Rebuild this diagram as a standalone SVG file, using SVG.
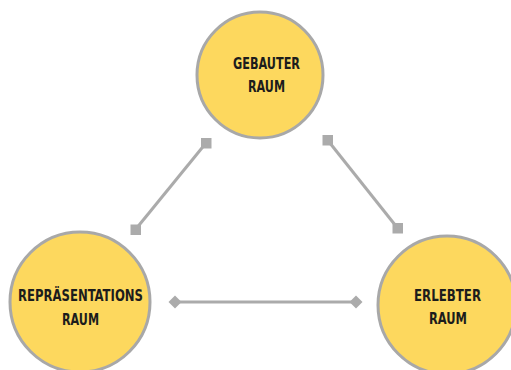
<svg xmlns="http://www.w3.org/2000/svg" width="511" height="370" viewBox="0 0 511 370">
  <style>
    .node circle { fill: #FDD85E; stroke: #A8A8A8; stroke-width: 3; }
    .node text { font-family: "DejaVu Sans Condensed", "DejaVu Sans", sans-serif; font-stretch: condensed; font-weight: bold; font-size: 16.5px; fill: #1c1c1c; text-anchor: middle; }
    .conn line { stroke: #ABABAB; stroke-width: 3; }
  </style>
  <defs>
    <marker id="sq" markerUnits="userSpaceOnUse" markerWidth="12" markerHeight="12" refX="6" refY="6" viewBox="0 0 12 12">
      <rect x="1" y="1" width="10.5" height="10.5" fill="#ABABAB"/>
    </marker>
    <marker id="dia" markerUnits="userSpaceOnUse" markerWidth="16" markerHeight="16" refX="8" refY="8" viewBox="0 0 16 16">
      <polygon points="8,1.5 14.5,8 8,14.5 1.5,8" fill="#ABABAB"/>
    </marker>
  </defs>
  <rect width="511" height="370" fill="#ffffff"/>
  <g id="connectors" class="conn">
    <line x1="206" y1="143" x2="135.5" y2="229.5" marker-start="url(#sq)" marker-end="url(#sq)"/>
    <line x1="327.5" y1="140" x2="397.5" y2="228" marker-start="url(#sq)" marker-end="url(#sq)"/>
    <line x1="175" y1="302" x2="356" y2="302" marker-start="url(#dia)" marker-end="url(#dia)"/>
  </g>
  <g id="gebauter-raum" class="node">
    <circle cx="260" cy="75" r="63"/>
    <text x="266.5" y="68.5" textLength="67" lengthAdjust="spacingAndGlyphs">GEBAUTER</text>
    <text x="266.5" y="91.5" textLength="37" lengthAdjust="spacingAndGlyphs">RAUM</text>
  </g>
  <g id="repraesentations-raum" class="node">
    <circle cx="80" cy="302" r="70"/>
    <text x="80.5" y="301" textLength="125" lengthAdjust="spacingAndGlyphs">REPRÄSENTATIONS</text>
    <text x="80.5" y="325" textLength="37" lengthAdjust="spacingAndGlyphs">RAUM</text>
  </g>
  <g id="erlebter-raum" class="node">
    <circle cx="447" cy="305" r="69"/>
    <text x="447.5" y="300.5" textLength="67" lengthAdjust="spacingAndGlyphs">ERLEBTER</text>
    <text x="448" y="324" textLength="38" lengthAdjust="spacingAndGlyphs">RAUM</text>
  </g>
</svg>
